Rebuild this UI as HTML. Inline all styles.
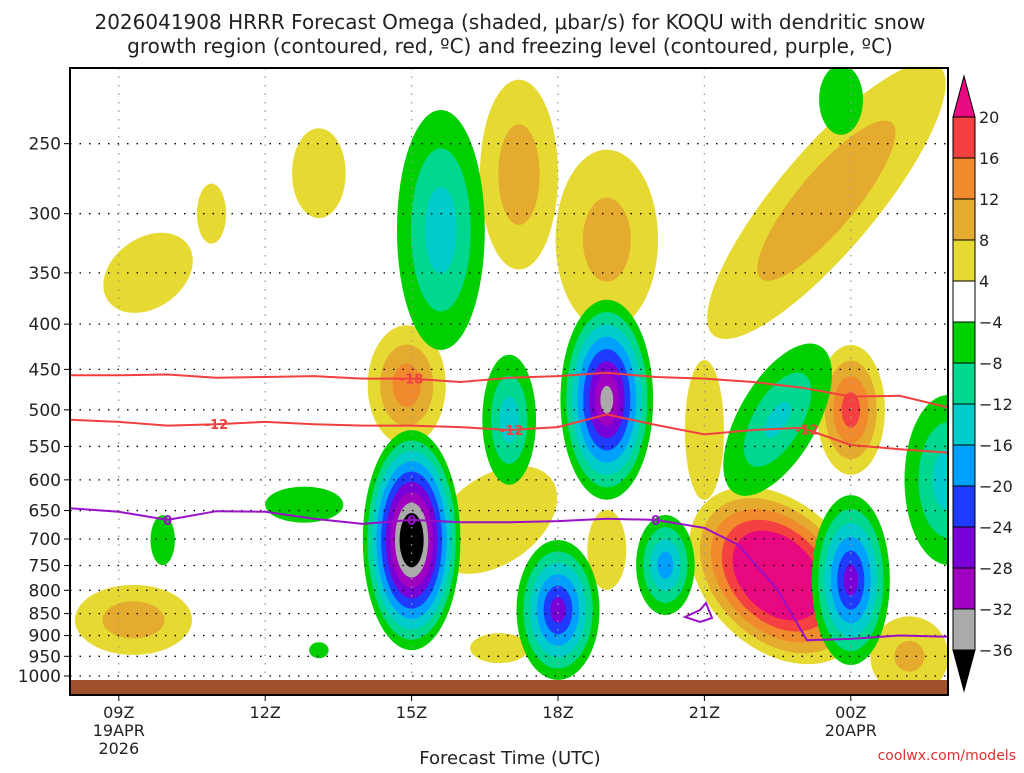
<!DOCTYPE html>
<html><head><meta charset="utf-8"><style>
body{margin:0;background:#fff;}
svg text{font-family:"DejaVu Sans","Liberation Sans",sans-serif;}
</style></head><body>
<svg id="chart" width="1024" height="768" viewBox="0 0 1024 768" xmlns="http://www.w3.org/2000/svg">
<defs><clipPath id="plotclip"><rect x="70" y="68" width="878" height="627"/></clipPath></defs>
<text x="510" y="29" font-size="20" text-anchor="middle" fill="#222">2026041908 HRRR Forecast Omega (shaded, μbar/s) for KOQU with dendritic snow</text>
<text x="510" y="53" font-size="20" text-anchor="middle" fill="#222">growth region (contoured, red, ºC) and freezing level (contoured, purple, ºC)</text>
<g id="fills" clip-path="url(#plotclip)"></g>
<g id="grid"></g>
<g id="lines" clip-path="url(#plotclip)"></g>
<rect x="70" y="680" width="878" height="15" fill="#a0522d"/>
<rect x="70" y="68" width="878" height="627" fill="none" stroke="#000" stroke-width="2"/>
<g id="axes"></g>
<g id="cbar"></g>
<text x="510" y="764" font-size="18" text-anchor="middle" fill="#222">Forecast Time (UTC)</text>
<text x="1016" y="760" font-size="14" text-anchor="end" fill="#e03030">coolwx.com/models</text>
</svg>
<script>
// pressure levels and time ticks
const pLevels=[250,300,350,400,450,500,550,600,650,700,750,800,850,900,950,1000];
const timeTicks=[1,4,7,10,13,16];
const timeLabels=[["09Z","19APR","2026"],["12Z"],["15Z"],["18Z"],["21Z"],["00Z","20APR"]];
// omega contour levels and colors
const posLevels=[4,8,12,16,20];
const posColors=["#e6da32","#e4ab2e","#f08a2c","#f44040","#e8087f"];
const negLevels=[4,8,12,16,20,24,28,32,36];
const negColors=["#00d000","#00d890","#00cccc","#00a0ff","#1e3cff","#7a00d8","#a000c0","#aaaaaa","#000000"];
// blobs: hour since 08Z, pressure hPa, half-width hours, half-height px, rotation deg, peak omega
const blobHours=[1.6,2.9,5.1,9.2,11.0,15.5,6.9,8.7,13.0,14.5,16.0,1.3,11.0,8.8,17.2, 7.6,7.0,9.0,11.0,10.0,12.2,14.5,16.0,15.8,4.8,1.9,18.0,5.1];
const blobP=[350,300,270,271,321,290,469,666,527,770,500,864,720,930,950, 313,702,513,487,842,749,513,779,223,640,702,600,935];
const blobW=[1.0,0.3,0.55,0.8,1.05,3.6,0.8,0.9,0.4,2.1,0.7,1.2,0.4,0.6,0.8, 0.9,1.0,0.55,0.95,0.85,0.6,0.8,0.8,0.45,0.8,0.25,0.9,0.2];
const blobH=[35,30,45,95,90,50,60,70,70,72,65,35,40,15,40, 120,110,65,100,70,50,85,85,35,18,25,85,8];
const blobRot=[-35,0,0,0,0,-50,0,55,0,45,0,0,0,0,0, 0,0,0,0,0,0,30,0,0,0,0,0,0];
const blobPeak=[6,5,6,10,9,11,14,7,7,34,18,10,6,7,8, -14,-44,-14,-34,-26,-18,-12,-26,-6,-6,-6,-14,-5];
// temperature contour lines
const lineHours=[0,1,2,3,4,5,6,7,8,9,10,11,12,13,14,15,16,17,18];
const m18P=[457,457,456,460,459,458,461,461,465,460,458,454,459,461,465,472,483,482,497];
const m12P=[513,516,521,519,516,519,521,521,523,527,523,506,520,533,527,524,548,554,559];
const fzHours=[0,1,2,3,4,5,6,7,8,9,10,11,12,13,13.7,14.5,15.1,16,17,18];
const fzP=[646,652,666,651,652,664,673,666,670,670,668,664,666,680,711,799,911,908,900,903];

const NS="http://www.w3.org/2000/svg";
const X=h=>70+h*48.8;
const Y=p=>676-384*Math.log(1000/p);
function mk(tag,attrs,parent){const e=document.createElementNS(NS,tag);for(const k in attrs)e.setAttribute(k,attrs[k]);parent.appendChild(e);return e;}
const fills=document.getElementById('fills');
function scale(a,L){return Math.min(1,(a-L+2.5)/(a-1.5));}
for(let k=0;k<posLevels.length;k++){
  blobPeak.forEach((pk,i)=>{
    if(pk<=0||pk<posLevels[k])return;
    const s=scale(pk,posLevels[k]);
    const e=mk('ellipse',{cx:X(blobHours[i]),cy:Y(blobP[i]),rx:blobW[i]*48.8*s,ry:blobH[i]*s,fill:posColors[k],transform:`rotate(${blobRot[i]} ${X(blobHours[i])} ${Y(blobP[i])})`},fills);
    
    
  });
}
for(let k=0;k<negLevels.length;k++){
  blobPeak.forEach((pk,i)=>{
    if(pk>=0||-pk<negLevels[k])return;
    const s=scale(-pk,negLevels[k]);
    const e=mk('ellipse',{cx:X(blobHours[i]),cy:Y(blobP[i]),rx:blobW[i]*48.8*s,ry:blobH[i]*s,fill:negColors[k],transform:`rotate(${blobRot[i]} ${X(blobHours[i])} ${Y(blobP[i])})`},fills);
    
    
  });
}
// grid
const grid=document.getElementById('grid');
pLevels.forEach(p=>{
  const l=mk('line',{x1:70,x2:948,y1:Y(p),y2:Y(p),stroke:'#000','stroke-width':1.3,'stroke-dasharray':'1.5 8'},grid);
  
  
});
timeTicks.forEach(h=>{
  const l=mk('line',{x1:X(h),x2:X(h),y1:68,y2:695,stroke:'#999','stroke-width':1.3,'stroke-dasharray':'1.5 7'},grid);
  
  
});
// lines
const lines=document.getElementById('lines');
function drawLine(hs,ps,color,name){
  const d=hs.map((h,i)=>(i?'L':'M')+X(h).toFixed(1)+' '+Y(ps[i]).toFixed(1)).join(' ');
  const e=mk('path',{d:d,fill:'none',stroke:color,'stroke-width':2},lines);
  
  
}
drawLine(lineHours,m18P,'#f04040','minus18-isotherm');
drawLine(lineHours,m12P,'#f04040','minus12-isotherm');
drawLine(fzHours,fzP,'#9a10c8','freezing-level');
const loop=mk('path',{d:'M685 617 L700 610 L706 603 L712 618 L700 622 Z',fill:'none',stroke:'#9a10c8','stroke-width':2},lines);


function lab(h,p,t,c){
  const x=X(h),y=Y(p);
  const e=mk('text',{x:x,y:y+5,'font-size':13,'font-weight':'bold','text-anchor':'middle',fill:c},lines);
  e.textContent=t;
  
  
}
lab(7.0,461,'-18','#f04040');lab(3.0,519,'-12','#f04040');lab(9.05,527,'-12','#f04040');lab(15.1,526,'-12','#f04040');
lab(2.0,666,'0','#9a10c8');lab(7.0,666,'0','#9a10c8');lab(12.0,666,'0','#9a10c8');
// axes
const axes=document.getElementById('axes');
pLevels.forEach(p=>{
  mk('line',{x1:64,x2:70,y1:Y(p),y2:Y(p),stroke:'#000'},axes);
  const t=mk('text',{x:61,y:Y(p)+6,'font-size':17,'text-anchor':'end',fill:'#222'},axes);
  t.textContent=p;
  
  
});
timeTicks.forEach((h,i)=>{
  mk('line',{x1:X(h),x2:X(h),y1:695,y2:701,stroke:'#000'},axes);
  timeLabels[i].forEach((s,j)=>{
    const t=mk('text',{x:X(h),y:718+j*18,'font-size':16,'text-anchor':'middle',fill:'#222'},axes);
    t.textContent=s;
    
    
  });
});
// colorbar
const cb=document.getElementById('cbar');
const cbLabels=[20,16,12,8,4,-4,-8,-12,-16,-20,-24,-28,-32,-36];
const cbColors=["#f44040","#f08a2c","#e4ab2e","#e6da32","#ffffff","#00d000","#00d890","#00cccc","#00a0ff","#1e3cff","#7a00d8","#a000c0","#aaaaaa"];
const cbTop=117,cbStep=41;
mk('polygon',{points:`953,${cbTop} 975,${cbTop} 964,76`,fill:'#e8087f',stroke:'#000'},cb);
cbColors.forEach((c,i)=>{
  const r=mk('rect',{x:953,y:cbTop+i*cbStep,width:22,height:cbStep,fill:c,stroke:'#000'},cb);
  
  
});
const cbBot=cbTop+cbColors.length*cbStep;
mk('polygon',{points:`953,${cbBot} 975,${cbBot} 964,691`,fill:'#000',stroke:'#000'},cb);
cbLabels.forEach((v,i)=>{
  const t=mk('text',{x:979,y:cbTop+i*cbStep+6,'font-size':16,fill:'#222'},cb);
  t.textContent=v<0?'−'+(-v):v;
  
  
});
</script>
</body></html>
